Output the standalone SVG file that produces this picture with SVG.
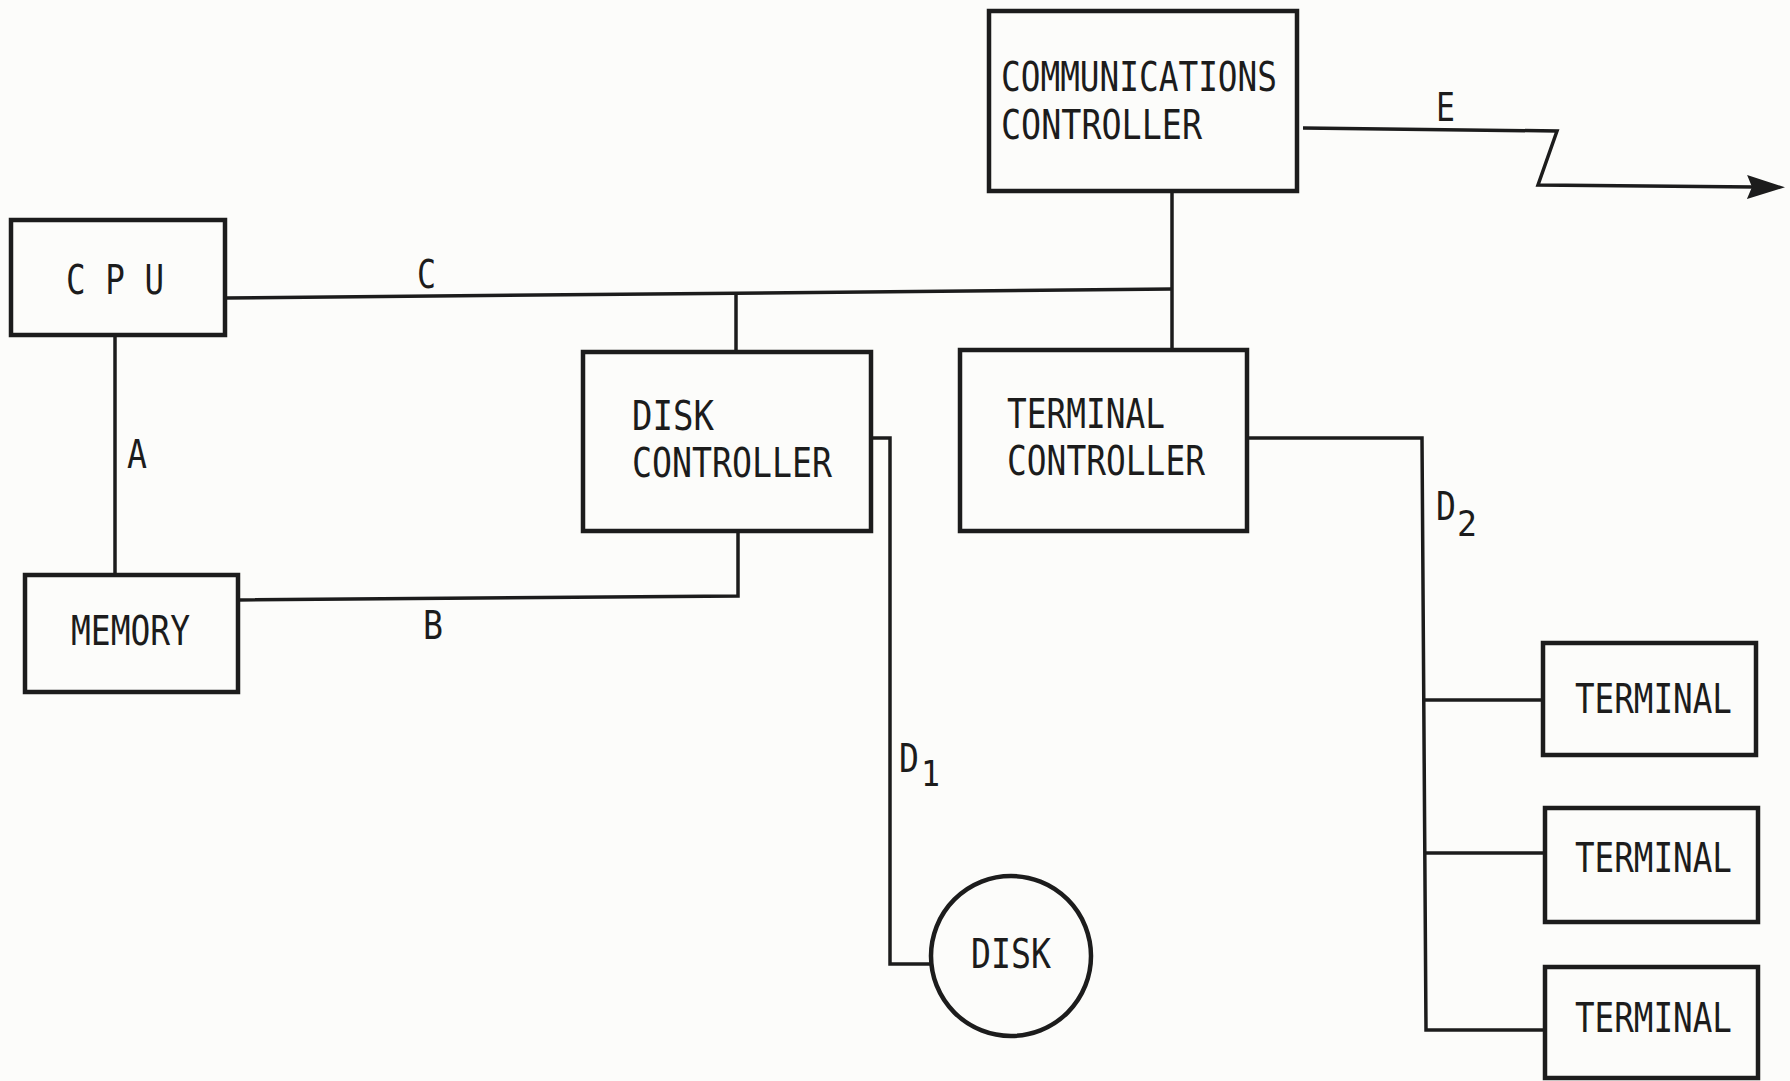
<svg xmlns="http://www.w3.org/2000/svg" width="1790" height="1081" viewBox="0 0 1790 1081">
  <defs>
    <style>
      .box { fill: none; stroke: #1c1c1c; stroke-width: 4.5; stroke-linejoin: miter; }
      .wire { fill: none; stroke: #1c1c1c; stroke-width: 3.5; stroke-linejoin: miter; }
      .lbl { font-family: "DejaVu Sans Mono", "Liberation Mono", monospace; font-size: 41px; fill: #1c1c1c; }
      .tag { font-family: "DejaVu Sans Mono", "Liberation Mono", monospace; font-size: 39px; fill: #1c1c1c; }
      .sub { font-family: "DejaVu Sans Mono", "Liberation Mono", monospace; font-size: 35px; fill: #1c1c1c; }
    </style>
    <marker id="arrow" markerUnits="userSpaceOnUse" markerWidth="42" markerHeight="28" refX="8" refY="14" orient="auto">
      <path d="M0,2 L38,14 L0,26 L5,14 Z" fill="#1c1c1c"/>
    </marker>
  </defs>
  <rect x="0" y="0" width="1790" height="1081" fill="#fcfcfa"/>

  <g id="connectors">
    <!-- C bus -->
    <path class="wire" d="M225,298 L1172,289"/>
    <!-- comm controller to terminal controller -->
    <path class="wire" d="M1172,191 L1172,350" stroke-width="4"/>
    <!-- bus to disk controller -->
    <path class="wire" d="M736,294 L736,352"/>
    <!-- A -->
    <path class="wire" d="M115,335 L115,575"/>
    <!-- B -->
    <path class="wire" d="M238,600 L738,596 L738,531"/>
    <!-- D1 -->
    <path class="wire" d="M871,438 L890,438 L890,964 L932,964"/>
    <!-- D2 -->
    <path class="wire" d="M1247,438 L1422,438 L1426,1030 L1545,1030"/>
    <path class="wire" d="M1423,700 L1543,700"/>
    <path class="wire" d="M1424,853 L1545,853"/>
    <!-- E -->
    <path class="wire" d="M1303,128 L1557,131 L1538,185 L1755,187" stroke-width="4.5" marker-end="url(#arrow)"/>
    <text class="tag" x="127" y="468" textLength="20" lengthAdjust="spacingAndGlyphs">A</text>
    <text class="tag" x="423" y="639" textLength="20" lengthAdjust="spacingAndGlyphs">B</text>
    <text class="tag" x="417" y="288" textLength="19" lengthAdjust="spacingAndGlyphs">C</text>
    <text class="tag" x="1436" y="121" textLength="19" lengthAdjust="spacingAndGlyphs">E</text>
    <text class="tag" x="899" y="772" textLength="20" lengthAdjust="spacingAndGlyphs">D</text>
    <text class="sub" x="921" y="786" textLength="19" lengthAdjust="spacingAndGlyphs">1</text>
    <text class="tag" x="1436" y="520" textLength="20" lengthAdjust="spacingAndGlyphs">D</text>
    <text class="sub" x="1457" y="536" textLength="20" lengthAdjust="spacingAndGlyphs">2</text>
  </g>

  <g id="comm-controller">
    <rect class="box" x="989" y="11" width="308" height="180" stroke-width="5"/>
    <text class="lbl" x="1001" y="91" textLength="276" lengthAdjust="spacingAndGlyphs">COMMUNICATIONS</text>
    <text class="lbl" x="1001" y="139" textLength="201" lengthAdjust="spacingAndGlyphs">CONTROLLER</text>
  </g>

  <g id="cpu">
    <rect class="box" x="11" y="220" width="214" height="115"/>
    <text class="lbl" x="66" y="294" textLength="98" lengthAdjust="spacingAndGlyphs">C P U</text>
  </g>

  <g id="memory">
    <rect class="box" x="25" y="575" width="213" height="117"/>
    <text class="lbl" x="71" y="645" textLength="119" lengthAdjust="spacingAndGlyphs">MEMORY</text>
  </g>

  <g id="disk-controller">
    <rect class="box" x="583" y="352" width="288" height="179"/>
    <text class="lbl" x="632" y="430" textLength="82" lengthAdjust="spacingAndGlyphs">DISK</text>
    <text class="lbl" x="632" y="477" textLength="200" lengthAdjust="spacingAndGlyphs">CONTROLLER</text>
  </g>

  <g id="terminal-controller">
    <rect class="box" x="960" y="350" width="287" height="181"/>
    <text class="lbl" x="1007" y="428" textLength="158" lengthAdjust="spacingAndGlyphs">TERMINAL</text>
    <text class="lbl" x="1007" y="475" textLength="198" lengthAdjust="spacingAndGlyphs">CONTROLLER</text>
  </g>

  <g id="disk">
    <circle class="box" cx="1011" cy="956" r="80" stroke-width="4"/>
    <text class="lbl" x="971" y="968" textLength="80" lengthAdjust="spacingAndGlyphs">DISK</text>
  </g>

  <g id="terminal-1">
    <rect class="box" x="1543" y="643" width="213" height="112"/>
    <text class="lbl" x="1575" y="713" textLength="157" lengthAdjust="spacingAndGlyphs">TERMINAL</text>
  </g>

  <g id="terminal-2">
    <rect class="box" x="1545" y="808" width="213" height="114"/>
    <text class="lbl" x="1575" y="872" textLength="157" lengthAdjust="spacingAndGlyphs">TERMINAL</text>
  </g>

  <g id="terminal-3">
    <rect class="box" x="1545" y="967" width="213" height="111"/>
    <text class="lbl" x="1575" y="1032" textLength="157" lengthAdjust="spacingAndGlyphs">TERMINAL</text>
  </g>
</svg>
